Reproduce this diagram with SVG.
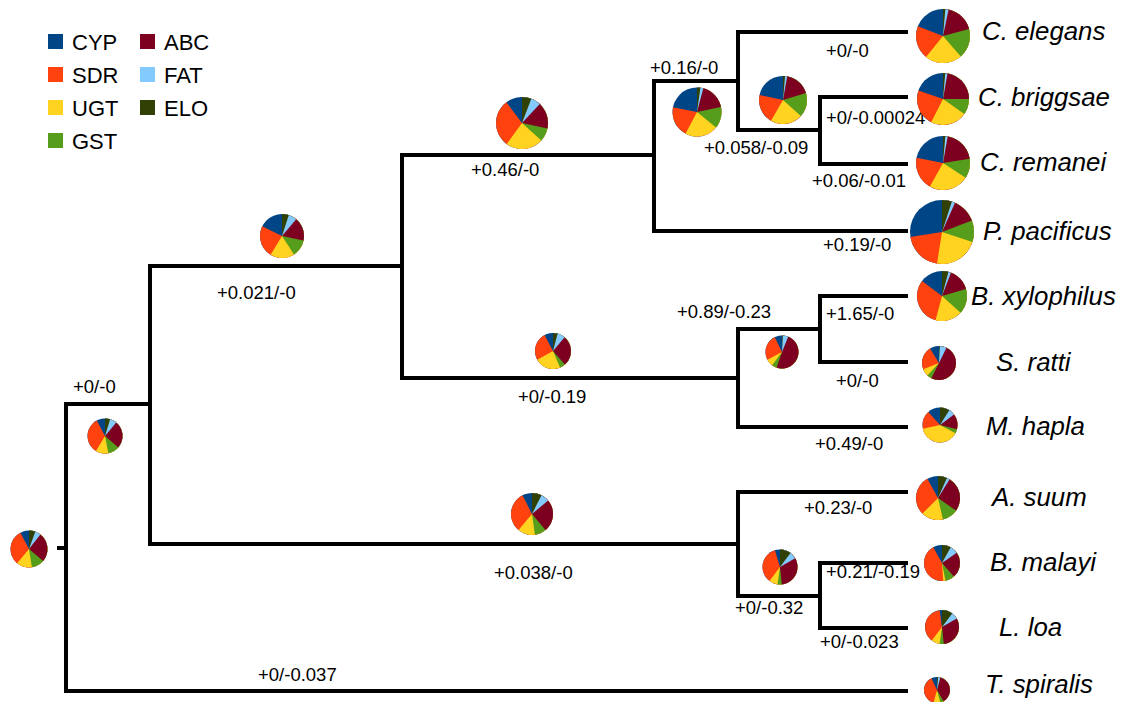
<svg xmlns="http://www.w3.org/2000/svg" width="1121" height="702" viewBox="0 0 1121 702">
  <style>
    .bg { fill: #ffffff; }
    .branch { fill: none; stroke: #000000; stroke-width: 4; stroke-linejoin: miter; stroke-linecap: butt; }
    .blabel { font-family: "Liberation Sans", Arial, sans-serif; font-size: 18.5px; fill: #000000; }
    .species { font-family: "Liberation Sans", Arial, sans-serif; font-size: 25.8px; font-style: italic; fill: #000000; }
    .legtext { font-family: "Liberation Sans", Arial, sans-serif; font-size: 22px; fill: #000000; }
    /* gene family colours (pie wedges and legend swatches) */
    .cyp { fill: #004586; } .sdr { fill: #ff420e; } .ugt { fill: #ffd320; } .gst { fill: #579d1c; }
    .abc { fill: #7e0021; } .fat { fill: #83caff; } .elo { fill: #314004; }
  </style>

  <rect class="bg" x="0" y="0" width="1121" height="702"/>

  <!-- legend -->
  <g id="legend">
    <rect class="cyp" x="48" y="34" width="15" height="15"/><text class="legtext" x="72" y="50">CYP</text>
    <rect class="sdr" x="48" y="67" width="15" height="15"/><text class="legtext" x="72" y="83">SDR</text>
    <rect class="ugt" x="48" y="100" width="15" height="15"/><text class="legtext" x="72" y="116">UGT</text>
    <rect class="gst" x="48" y="133" width="15" height="15"/><text class="legtext" x="72" y="149">GST</text>
    <rect class="abc" x="140" y="34" width="15" height="15"/><text class="legtext" x="164" y="50">ABC</text>
    <rect class="fat" x="140" y="67" width="15" height="15"/><text class="legtext" x="164" y="83">FAT</text>
    <rect class="elo" x="140" y="100" width="15" height="15"/><text class="legtext" x="164" y="116">ELO</text>
  </g>

  <!-- tree branches -->
  <g id="connectors">
    <path class="branch" d="M57,548 H66"/>
    <path class="branch" d="M150,404 H66 V691 H908"/>
    <path class="branch" d="M402,266 H150 V544 H738"/>
    <path class="branch" d="M654,155 H402 V378 H738"/>
    <path class="branch" d="M738,81 H654 V231 H908"/>
    <path class="branch" d="M908,32 H738 V130 H820"/>
    <path class="branch" d="M908,97 H820 V164 H908"/>
    <path class="branch" d="M820,329 H738 V427 H908"/>
    <path class="branch" d="M908,296 H820 V362 H908"/>
    <path class="branch" d="M908,492 H738 V596 H820"/>
    <path class="branch" d="M908,563 H820 V628 H908"/>
  </g>

  <!-- gain/loss labels on branches -->
  <g id="branch-labels">
    <text class="blabel" x="73" y="393">+0/-0</text>
    <text class="blabel" x="217" y="299">+0.021/-0</text>
    <text class="blabel" x="471" y="176">+0.46/-0</text>
    <text class="blabel" x="650" y="74">+0.16/-0</text>
    <text class="blabel" x="826" y="57">+0/-0</text>
    <text class="blabel" x="704" y="154">+0.058/-0.09</text>
    <text class="blabel" x="826" y="124">+0/-0.00024</text>
    <text class="blabel" x="812" y="187">+0.06/-0.01</text>
    <text class="blabel" x="823" y="251">+0.19/-0</text>
    <text class="blabel" x="677" y="318">+0.89/-0.23</text>
    <text class="blabel" x="826" y="320">+1.65/-0</text>
    <text class="blabel" x="518" y="403">+0/-0.19</text>
    <text class="blabel" x="836" y="387">+0/-0</text>
    <text class="blabel" x="815" y="450">+0.49/-0</text>
    <text class="blabel" x="804" y="514">+0.23/-0</text>
    <text class="blabel" x="494" y="579">+0.038/-0</text>
    <text class="blabel" x="826" y="578">+0.21/-0.19</text>
    <text class="blabel" x="735" y="614">+0/-0.32</text>
    <text class="blabel" x="820" y="648">+0/-0.023</text>
    <text class="blabel" x="258" y="681">+0/-0.037</text>
  </g>

  <!-- Pies are drawn in unit coordinates (scaled to radius). Wedges are stacked:
       full CYP disc, then SDR, UGT, GST, ABC, FAT, ELO each swept clockwise from 12 o'clock
       to the cumulative end of that family, so each family shows its own sector. -->

  <!-- internal nodes -->
  <g id="node-root" transform="translate(29,549) scale(18.5)">
    <circle class="cyp" r="1"/>
    <path class="sdr" d="M0 0V-1A1 1 0 1 1 -0.4695 -0.8829Z"/>
    <path class="ugt" d="M0 0V-1A1 1 0 1 1 -0.6428 0.7660Z"/>
    <path class="gst" d="M0 0V-1A1 1 0 0 1 0.1564 0.9877Z"/>
    <path class="abc" d="M0 0V-1A1 1 0 0 1 0.7660 0.6428Z"/>
    <path class="fat" d="M0 0V-1A1 1 0 0 1 0.6157 -0.7880Z"/>
    <path class="elo" d="M0 0V-1A1 1 0 0 1 0.3420 -0.9397Z"/>
  </g>
  <g id="node-chromadorea" transform="translate(105,436) scale(17.5)">
    <circle class="cyp" r="1"/>
    <path class="sdr" d="M0 0V-1A1 1 0 1 1 -0.4695 -0.8829Z"/>
    <path class="ugt" d="M0 0V-1A1 1 0 1 1 -0.5150 0.8572Z"/>
    <path class="gst" d="M0 0V-1A1 1 0 0 1 0.1908 0.9816Z"/>
    <path class="abc" d="M0 0V-1A1 1 0 0 1 0.7547 0.6561Z"/>
    <path class="fat" d="M0 0V-1A1 1 0 0 1 0.6428 -0.7660Z"/>
    <path class="elo" d="M0 0V-1A1 1 0 0 1 0.2924 -0.9563Z"/>
  </g>
  <g id="node-tylenchina-rhabditina" transform="translate(282,236) scale(22)">
    <circle class="cyp" r="1"/>
    <path class="sdr" d="M0 0V-1A1 1 0 1 1 -0.8988 -0.4384Z"/>
    <path class="ugt" d="M0 0V-1A1 1 0 1 1 -0.5150 0.8572Z"/>
    <path class="gst" d="M0 0V-1A1 1 0 0 1 0.5446 0.8387Z"/>
    <path class="abc" d="M0 0V-1A1 1 0 0 1 0.9781 0.2079Z"/>
    <path class="fat" d="M0 0V-1A1 1 0 0 1 0.6428 -0.7660Z"/>
    <path class="elo" d="M0 0V-1A1 1 0 0 1 0.3090 -0.9511Z"/>
  </g>
  <g id="node-rhabditina" transform="translate(522,123) scale(26)">
    <circle class="cyp" r="1"/>
    <path class="sdr" d="M0 0V-1A1 1 0 1 1 -0.6018 -0.7986Z"/>
    <path class="ugt" d="M0 0V-1A1 1 0 1 1 -0.5878 0.8090Z"/>
    <path class="gst" d="M0 0V-1A1 1 0 0 1 0.7431 0.6691Z"/>
    <path class="abc" d="M0 0V-1A1 1 0 0 1 0.9781 0.2079Z"/>
    <path class="fat" d="M0 0V-1A1 1 0 0 1 0.6820 -0.7314Z"/>
    <path class="elo" d="M0 0V-1A1 1 0 0 1 0.3584 -0.9336Z"/>
  </g>
  <g id="node-pristionchus-caenorhabditis" transform="translate(697,112) scale(24.5)">
    <circle class="cyp" r="1"/>
    <path class="sdr" d="M0 0V-1A1 1 0 1 1 -0.9816 -0.1908Z"/>
    <path class="ugt" d="M0 0V-1A1 1 0 1 1 -0.4695 0.8829Z"/>
    <path class="gst" d="M0 0V-1A1 1 0 0 1 0.7771 0.6293Z"/>
    <path class="abc" d="M0 0V-1A1 1 0 0 1 0.9781 -0.2079Z"/>
    <path class="fat" d="M0 0V-1A1 1 0 0 1 0.2588 -0.9659Z"/>
    <path class="elo" d="M0 0V-1A1 1 0 0 1 0.1392 -0.9903Z"/>
  </g>
  <g id="node-caenorhabditis" transform="translate(783,100) scale(24)">
    <circle class="cyp" r="1"/>
    <path class="sdr" d="M0 0V-1A1 1 0 1 1 -0.9781 -0.2079Z"/>
    <path class="ugt" d="M0 0V-1A1 1 0 1 1 -0.5000 0.8660Z"/>
    <path class="gst" d="M0 0V-1A1 1 0 0 1 0.7431 0.6691Z"/>
    <path class="abc" d="M0 0V-1A1 1 0 0 1 0.9563 -0.2924Z"/>
    <path class="fat" d="M0 0V-1A1 1 0 0 1 0.1736 -0.9848Z"/>
    <path class="elo" d="M0 0V-1A1 1 0 0 1 0.0872 -0.9962Z"/>
  </g>
  <g id="node-tylenchina" transform="translate(553,351) scale(18)">
    <circle class="cyp" r="1"/>
    <path class="sdr" d="M0 0V-1A1 1 0 1 1 -0.4695 -0.8829Z"/>
    <path class="ugt" d="M0 0V-1A1 1 0 1 1 -0.8746 0.4848Z"/>
    <path class="gst" d="M0 0V-1A1 1 0 0 1 0.3907 0.9205Z"/>
    <path class="abc" d="M0 0V-1A1 1 0 0 1 0.6561 0.7547Z"/>
    <path class="fat" d="M0 0V-1A1 1 0 0 1 0.6428 -0.7660Z"/>
    <path class="elo" d="M0 0V-1A1 1 0 0 1 0.2588 -0.9659Z"/>
  </g>
  <g id="node-bursaphelenchus-strongyloides" transform="translate(782,352) scale(16.5)">
    <circle class="cyp" r="1"/>
    <path class="sdr" d="M0 0V-1A1 1 0 1 1 -0.4384 -0.8988Z"/>
    <path class="ugt" d="M0 0V-1A1 1 0 1 1 -0.8829 0.4695Z"/>
    <path class="gst" d="M0 0V-1A1 1 0 1 1 -0.6018 0.7986Z"/>
    <path class="abc" d="M0 0V-1A1 1 0 1 1 -0.3256 0.9455Z"/>
    <path class="fat" d="M0 0V-1A1 1 0 0 1 0.3746 -0.9272Z"/>
    <path class="elo" d="M0 0V-1A1 1 0 0 1 0.0523 -0.9986Z"/>
  </g>
  <g id="node-spirurina" transform="translate(532,514) scale(21)">
    <circle class="cyp" r="1"/>
    <path class="sdr" d="M0 0V-1A1 1 0 1 1 -0.4540 -0.8910Z"/>
    <path class="ugt" d="M0 0V-1A1 1 0 1 1 -0.6428 0.7660Z"/>
    <path class="gst" d="M0 0V-1A1 1 0 0 1 0.1392 0.9903Z"/>
    <path class="abc" d="M0 0V-1A1 1 0 0 1 0.6428 0.7660Z"/>
    <path class="fat" d="M0 0V-1A1 1 0 0 1 0.7660 -0.6428Z"/>
    <path class="elo" d="M0 0V-1A1 1 0 0 1 0.4540 -0.8910Z"/>
  </g>
  <g id="node-filarioidea" transform="translate(780,567) scale(17.5)">
    <circle class="cyp" r="1"/>
    <path class="sdr" d="M0 0V-1A1 1 0 1 1 -0.2924 -0.9563Z"/>
    <path class="ugt" d="M0 0V-1A1 1 0 1 1 -0.6018 0.7986Z"/>
    <path class="gst" d="M0 0V-1A1 1 0 1 1 -0.1392 0.9903Z"/>
    <path class="abc" d="M0 0V-1A1 1 0 0 1 0.1045 0.9945Z"/>
    <path class="fat" d="M0 0V-1A1 1 0 0 1 0.8660 -0.5000Z"/>
    <path class="elo" d="M0 0V-1A1 1 0 0 1 0.6018 -0.7986Z"/>
  </g>

  <!-- leaves: species composition and names -->
  <g id="tip-c-elegans">
    <g transform="translate(943,36) scale(27)">
      <circle class="cyp" r="1"/>
      <path class="sdr" d="M0 0V-1A1 1 0 1 1 -0.9336 -0.3584Z"/>
      <path class="ugt" d="M0 0V-1A1 1 0 1 1 -0.6293 0.7771Z"/>
      <path class="gst" d="M0 0V-1A1 1 0 0 1 0.6561 0.7547Z"/>
      <path class="abc" d="M0 0V-1A1 1 0 0 1 0.9659 -0.2588Z"/>
      <path class="fat" d="M0 0V-1A1 1 0 0 1 0.2079 -0.9781Z"/>
      <path class="elo" d="M0 0V-1A1 1 0 0 1 0.0872 -0.9962Z"/>
    </g>
    <text class="species" x="982" y="40">C. elegans</text>
  </g>
  <g id="tip-c-briggsae">
    <g transform="translate(943,99) scale(26)">
      <circle class="cyp" r="1"/>
      <path class="sdr" d="M0 0V-1A1 1 0 1 1 -0.9455 -0.3256Z"/>
      <path class="ugt" d="M0 0V-1A1 1 0 1 1 -0.4540 0.8910Z"/>
      <path class="gst" d="M0 0V-1A1 1 0 0 1 0.8192 0.5736Z"/>
      <path class="abc" d="M0 0V-1A1 1 0 0 1 1 0Z"/>
      <path class="fat" d="M0 0V-1A1 1 0 0 1 0.1736 -0.9848Z"/>
      <path class="elo" d="M0 0V-1A1 1 0 0 1 0.0872 -0.9962Z"/>
    </g>
    <text class="species" x="978" y="106">C. briggsae</text>
  </g>
  <g id="tip-c-remanei">
    <g transform="translate(943,163) scale(27)">
      <circle class="cyp" r="1"/>
      <path class="sdr" d="M0 0V-1A1 1 0 1 1 -0.9816 -0.1908Z"/>
      <path class="ugt" d="M0 0V-1A1 1 0 1 1 -0.4848 0.8746Z"/>
      <path class="gst" d="M0 0V-1A1 1 0 0 1 0.8387 0.5446Z"/>
      <path class="abc" d="M0 0V-1A1 1 0 0 1 0.9877 -0.1564Z"/>
      <path class="fat" d="M0 0V-1A1 1 0 0 1 0.1736 -0.9848Z"/>
      <path class="elo" d="M0 0V-1A1 1 0 0 1 0.0872 -0.9962Z"/>
    </g>
    <text class="species" x="980" y="171">C. remanei</text>
  </g>
  <g id="tip-p-pacificus">
    <g transform="translate(942,232) scale(32)">
      <circle class="cyp" r="1"/>
      <path class="sdr" d="M0 0V-1A1 1 0 1 1 -0.9877 0.1564Z"/>
      <path class="ugt" d="M0 0V-1A1 1 0 1 1 -0.1564 0.9877Z"/>
      <path class="gst" d="M0 0V-1A1 1 0 0 1 0.9511 0.3090Z"/>
      <path class="abc" d="M0 0V-1A1 1 0 0 1 0.9336 -0.3584Z"/>
      <path class="fat" d="M0 0V-1A1 1 0 0 1 0.4067 -0.9135Z"/>
      <path class="elo" d="M0 0V-1A1 1 0 0 1 0.3090 -0.9511Z"/>
    </g>
    <text class="species" x="983" y="240">P. pacificus</text>
  </g>
  <g id="tip-b-xylophilus">
    <g transform="translate(942,296) scale(25)">
      <circle class="cyp" r="1"/>
      <path class="sdr" d="M0 0V-1A1 1 0 1 1 -0.7986 -0.6018Z"/>
      <path class="ugt" d="M0 0V-1A1 1 0 1 1 -0.2588 0.9659Z"/>
      <path class="gst" d="M0 0V-1A1 1 0 0 1 0.7431 0.6691Z"/>
      <path class="abc" d="M0 0V-1A1 1 0 0 1 0.9613 -0.2756Z"/>
      <path class="fat" d="M0 0V-1A1 1 0 0 1 0.3584 -0.9336Z"/>
      <path class="elo" d="M0 0V-1A1 1 0 0 1 0.2588 -0.9659Z"/>
    </g>
    <text class="species" x="971" y="305">B. xylophilus</text>
  </g>
  <g id="tip-s-ratti">
    <g transform="translate(939,363) scale(17)">
      <circle class="cyp" r="1"/>
      <path class="sdr" d="M0 0V-1A1 1 0 1 1 -0.5299 -0.8480Z"/>
      <path class="ugt" d="M0 0V-1A1 1 0 1 1 -0.9272 0.3746Z"/>
      <path class="gst" d="M0 0V-1A1 1 0 1 1 -0.6820 0.7314Z"/>
      <path class="abc" d="M0 0V-1A1 1 0 1 1 -0.4540 0.8910Z"/>
      <path class="fat" d="M0 0V-1A1 1 0 0 1 0.4384 -0.8988Z"/>
      <path class="elo" d="M0 0V-1A1 1 0 0 1 0.0523 -0.9986Z"/>
    </g>
    <text class="species" x="996" y="371">S. ratti</text>
  </g>
  <g id="tip-m-hapla">
    <g transform="translate(940,425) scale(17.5)">
      <circle class="cyp" r="1"/>
      <path class="sdr" d="M0 0V-1A1 1 0 1 1 -0.6691 -0.7431Z"/>
      <path class="ugt" d="M0 0V-1A1 1 0 1 1 -0.9781 0.2079Z"/>
      <path class="gst" d="M0 0V-1A1 1 0 0 1 0.8829 0.4695Z"/>
      <path class="abc" d="M0 0V-1A1 1 0 0 1 0.9703 0.2419Z"/>
      <path class="fat" d="M0 0V-1A1 1 0 0 1 0.7986 -0.6018Z"/>
      <path class="elo" d="M0 0V-1A1 1 0 0 1 0.5299 -0.8480Z"/>
    </g>
    <text class="species" x="986" y="435">M. hapla</text>
  </g>
  <g id="tip-a-suum">
    <g transform="translate(938,498) scale(22)">
      <circle class="cyp" r="1"/>
      <path class="sdr" d="M0 0V-1A1 1 0 1 1 -0.4848 -0.8746Z"/>
      <path class="ugt" d="M0 0V-1A1 1 0 1 1 -0.7071 0.7071Z"/>
      <path class="gst" d="M0 0V-1A1 1 0 0 1 0.2250 0.9744Z"/>
      <path class="abc" d="M0 0V-1A1 1 0 0 1 0.8192 0.5736Z"/>
      <path class="fat" d="M0 0V-1A1 1 0 0 1 0.5299 -0.8480Z"/>
      <path class="elo" d="M0 0V-1A1 1 0 0 1 0.4067 -0.9135Z"/>
    </g>
    <text class="species" x="992" y="506">A. suum</text>
  </g>
  <g id="tip-b-malayi">
    <g transform="translate(942,563) scale(18)">
      <circle class="cyp" r="1"/>
      <path class="sdr" d="M0 0V-1A1 1 0 1 1 -0.4848 -0.8746Z"/>
      <path class="ugt" d="M0 0V-1A1 1 0 0 1 0.0698 0.9976Z"/>
      <path class="gst" d="M0 0V-1A1 1 0 0 1 0.1908 0.9816Z"/>
      <path class="abc" d="M0 0V-1A1 1 0 0 1 0.6561 0.7547Z"/>
      <path class="fat" d="M0 0V-1A1 1 0 0 1 0.8192 -0.5736Z"/>
      <path class="elo" d="M0 0V-1A1 1 0 0 1 0.4848 -0.8746Z"/>
    </g>
    <text class="species" x="990" y="571">B. malayi</text>
  </g>
  <g id="tip-l-loa">
    <g transform="translate(942,627) scale(17)">
      <circle class="cyp" r="1"/>
      <path class="sdr" d="M0 0V-1A1 1 0 1 1 -0.1392 -0.9903Z"/>
      <path class="ugt" d="M0 0V-1A1 1 0 1 1 -0.6018 0.7986Z"/>
      <path class="gst" d="M0 0V-1A1 1 0 1 1 -0.1392 0.9903Z"/>
      <path class="abc" d="M0 0V-1A1 1 0 0 1 0.1045 0.9945Z"/>
      <path class="fat" d="M0 0V-1A1 1 0 0 1 0.8660 -0.5000Z"/>
      <path class="elo" d="M0 0V-1A1 1 0 0 1 0.6018 -0.7986Z"/>
    </g>
    <text class="species" x="999" y="636">L. loa</text>
  </g>
  <g id="tip-t-spiralis">
    <g transform="translate(937,690) scale(13)">
      <circle class="cyp" r="1"/>
      <path class="sdr" d="M0 0V-1A1 1 0 1 1 -0.4226 -0.9063Z"/>
      <path class="ugt" d="M0 0V-1A1 1 0 1 1 -0.2588 0.9659Z"/>
      <path class="gst" d="M0 0V-1A1 1 0 0 1 0.2588 0.9659Z"/>
      <path class="abc" d="M0 0V-1A1 1 0 0 1 0.5000 0.8660Z"/>
      <path class="fat" d="M0 0V-1A1 1 0 0 1 0.2588 -0.9659Z"/>
      <path class="elo" d="M0 0V-1A1 1 0 0 1 0.0872 -0.9962Z"/>
    </g>
    <text class="species" x="985" y="693">T. spiralis</text>
  </g>
</svg>
